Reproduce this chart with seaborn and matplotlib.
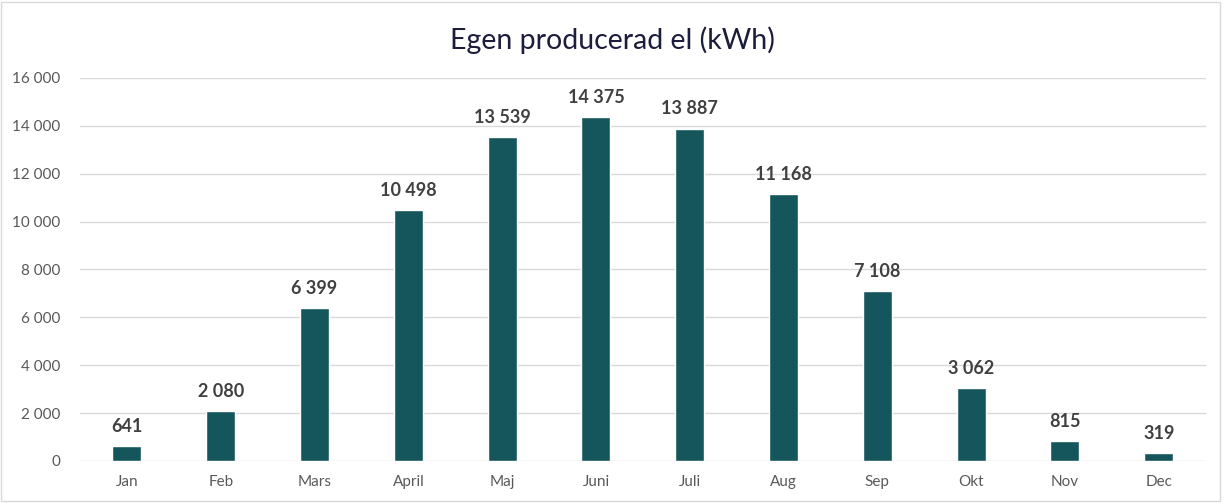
import matplotlib
matplotlib.use("Agg")
import matplotlib.pyplot as plt
from matplotlib.patches import Rectangle
from matplotlib.ticker import FuncFormatter
import seaborn as sns
import pandas as pd

months = ["Jan", "Feb", "Mars", "April", "Maj", "Juni", "Juli", "Aug", "Sep", "Okt", "Nov", "Dec"]
kwh = [641, 2080, 6399, 10498, 13539, 14375, 13887, 11168, 7108, 3062, 815, 319]
title = "Egen producerad el (kWh)"


def fmt_space(v, pos=None):
    return f"{int(round(v)):,}".replace(",", " ")


sns.set_theme(style="white")
plt.rcParams['font.family'] = ['Lato', 'DejaVu Sans']

df = pd.DataFrame({"month": months, "kwh": kwh})

fig = plt.figure(figsize=(12.24, 5.03), dpi=100)
ax = fig.add_axes([0.0654, 0.0835, 0.9196, 0.7615])

sns.barplot(data=df, x="month", y="kwh", color="#14565b", saturation=1,
            width=0.31, ax=ax)

ax.set_ylim(0, 16000)
ax.set_yticks(range(0, 16001, 2000))
ax.yaxis.set_major_formatter(FuncFormatter(fmt_space))
ax.grid(axis="y", color="#d9d9d9", linewidth=1)
ax.set_axisbelow(True)
for s in ax.spines.values():
    s.set_visible(False)
ax.set_xlabel("")
ax.set_ylabel("")
ax.tick_params(axis="both", length=0, labelsize=11, colors="#595959", pad=10)
ax.tick_params(axis="y", pad=14)

for i, v in enumerate(kwh):
    ax.annotate(fmt_space(v), (i, v), xytext=(0, 8), textcoords="offset points",
                ha="center", va="bottom", fontsize=13, fontweight="bold", color="#404040")

fig.text(0.5, 0.92, title, ha="center", va="center", fontsize=20.5, color="#1c1c3c")
fig.patches.append(Rectangle((0.001, 0.003), 0.996, 0.994, transform=fig.transFigure,
                             fill=False, edgecolor="#d9d9d9", linewidth=1))

fig.savefig("out.png", dpi=100)
